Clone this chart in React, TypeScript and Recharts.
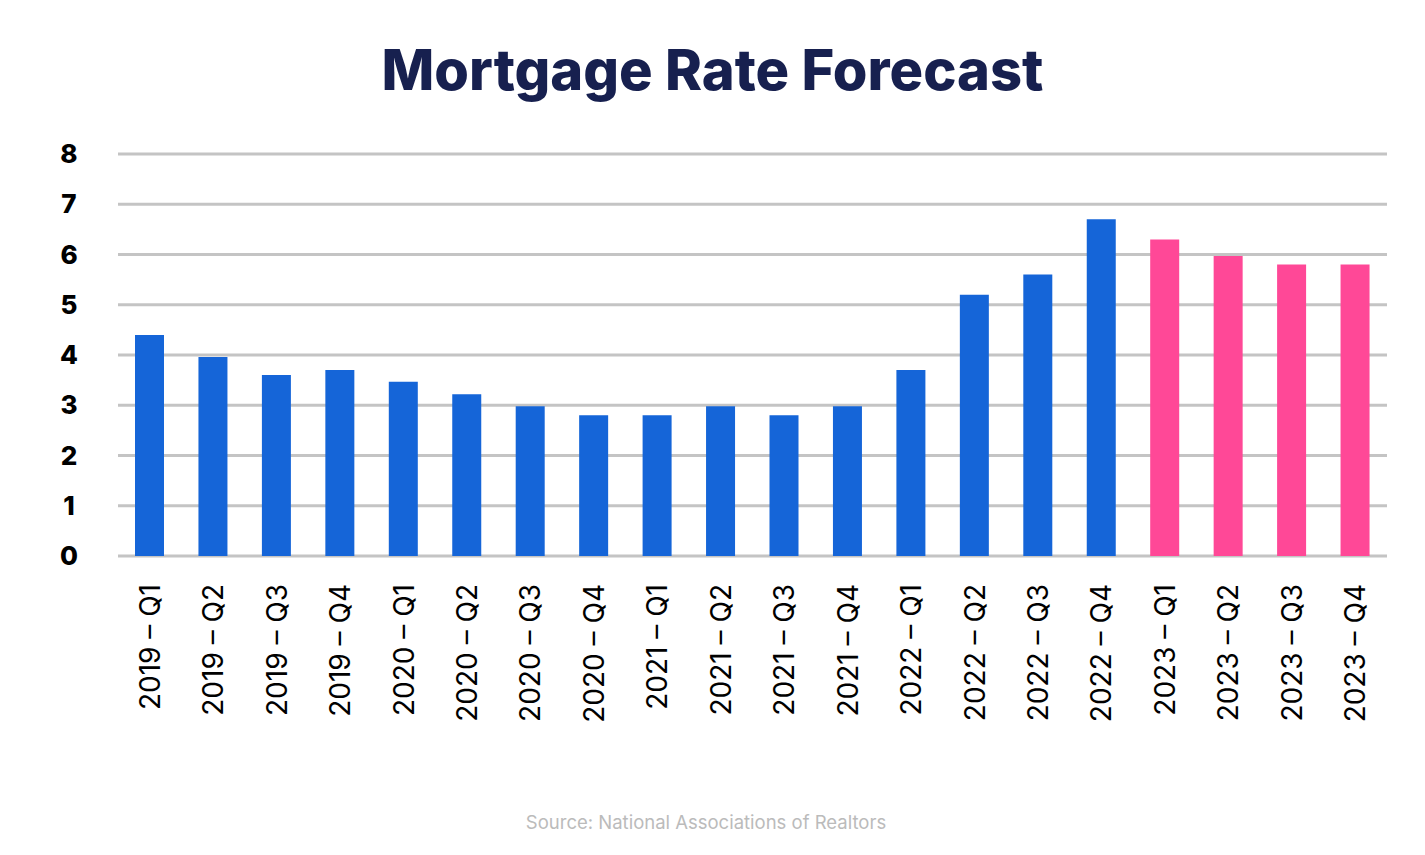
import React from "react";
import { Bar, BarChart, CartesianGrid, Cell, XAxis, YAxis } from "recharts";

const quarters = [
  "2019 – Q1", "2019 – Q2", "2019 – Q3", "2019 – Q4",
  "2020 – Q1", "2020 – Q2", "2020 – Q3", "2020 – Q4",
  "2021 – Q1", "2021 – Q2", "2021 – Q3", "2021 – Q4",
  "2022 – Q1", "2022 – Q2", "2022 – Q3", "2022 – Q4",
  "2023 – Q1", "2023 – Q2", "2023 – Q3", "2023 – Q4",
];

const rates = [
  4.4, 3.96, 3.6, 3.7,
  3.47, 3.22, 2.98, 2.8,
  2.8, 2.98, 2.8, 2.98,
  3.7, 5.2, 5.6, 6.7,
  6.3, 5.97, 5.8, 5.8,
];

// 2023 quarters are the forecast
const forecast = [
  false, false, false, false,
  false, false, false, false,
  false, false, false, false,
  false, false, false, false,
  true, true, true, true,
];

const yTicks = [0, 1, 2, 3, 4, 5, 6, 7, 8];

const data = quarters.map((quarter, i) => ({ quarter, rate: rates[i], forecast: forecast[i] }));

const FONT = "Inter, 'Open Sans', sans-serif";
const ACTUAL = "#1565d8";
const FORECAST = "#ff4897";

function YTick({ y, payload }: any) {
  return (
    <text x={69} y={y} dy={9} textAnchor="middle" fontFamily={FONT} fontWeight={800} fontSize={26} fill="#000">
      {payload.value}
    </text>
  );
}

function XTick({ x, y, payload }: any) {
  return (
    <text
      x={x}
      y={y}
      transform={`rotate(-90 ${x} ${y})`}
      dx={-20}
      dy={10}
      textAnchor="end"
      fontFamily={FONT}
      fontSize={28}
      fill="#000"
    >
      {payload.value}
    </text>
  );
}

export default function App() {
  return (
    <div style={{ position: "absolute", left: 0, top: 0, width: 1425, height: 855, background: "#fff" }}>
      <div
        style={{
          position: "absolute",
          left: 0,
          top: 36,
          width: 1425,
          textAlign: "center",
          fontFamily: FONT,
          fontWeight: 800,
          fontSize: 56,
          color: "#17204f",
        }}
      >
        Mortgage Rate Forecast
      </div>
      <BarChart width={1425} height={855} data={data} margin={{ top: 154, right: 38, bottom: 0, left: 0 }} barSize={29}>
        <CartesianGrid vertical={false} stroke="#c4c4c4" strokeWidth={3} />
        <XAxis dataKey="quarter" height={299} interval={0} axisLine={false} tickLine={false} tick={<XTick />} />
        <YAxis width={118} domain={[0, 8]} ticks={yTicks} axisLine={false} tickLine={false} tick={<YTick />} />
        <Bar dataKey="rate" isAnimationActive={false}>
          {data.map((d, i) => (
            <Cell key={i} fill={d.forecast ? FORECAST : ACTUAL} />
          ))}
        </Bar>
      </BarChart>
      <div
        style={{
          position: "absolute",
          left: 0,
          top: 811,
          width: 1412,
          textAlign: "center",
          fontFamily: FONT,
          fontSize: 18.5,
          color: "#bbbbbb",
        }}
      >
        Source: National Associations of Realtors
      </div>
    </div>
  );
}
